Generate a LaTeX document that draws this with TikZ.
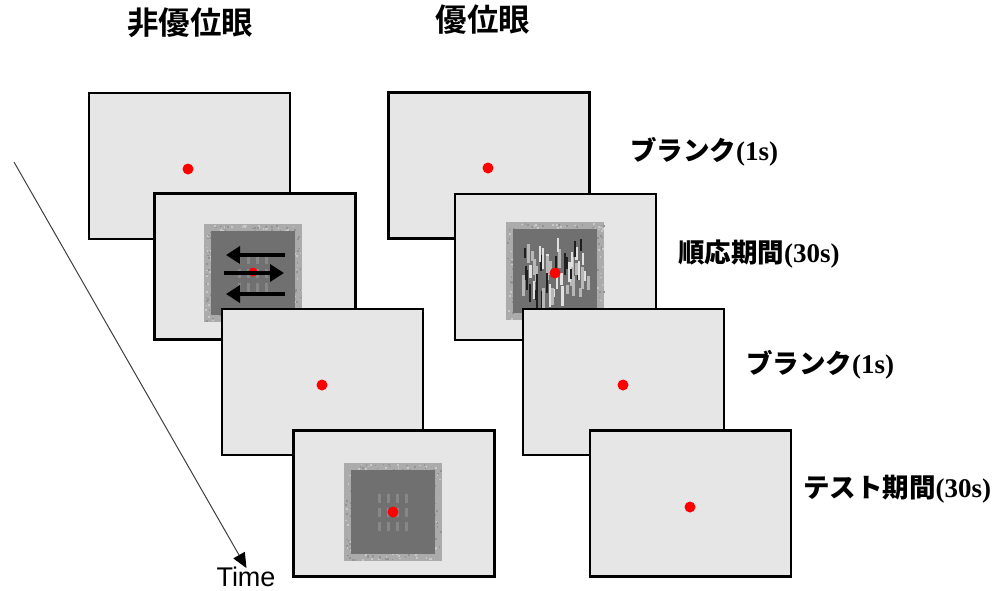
\documentclass[tikz,border=0pt]{standalone}
\usepackage{fontspec}
\setmainfont{Liberation Serif}
\newfontfamily\jpfont{Noto Sans CJK JP Bold}
\newfontfamily\timefont{Liberation Sans}
\usetikzlibrary{arrows.meta}

\definecolor{screenfill}{HTML}{E6E6E6}
\definecolor{framegray}{HTML}{ABABAB}
\definecolor{innergray}{HTML}{707070}
\definecolor{gratgray}{HTML}{878787}
\definecolor{fixred}{HTML}{FF0000}
\definecolor{timegray}{HTML}{404040}

\tikzset{
  screen/.style={draw=black, line width=2.5pt, fill=screenfill,
    minimum width=201pt, minimum height=146pt, inner sep=0pt, outer sep=0pt},
  heading/.style={anchor=base, inner sep=0pt, font=\jpfont\fontsize{31.5}{34}\selectfont},
  phase/.style={anchor=base west, inner sep=0pt, font=\fontsize{27}{30}\selectfont\bfseries},
  motion/.style={line width=4pt, -{Triangle[length=14pt,width=17pt]}},
}

% textured grey frame with a dark grey field, centred on (#1,#2)
\newcommand\stimframe[3]{%
  \begin{scope}[shift={(#1,#2)}]
    \fill[framegray] (-49,-49) rectangle (49,49);
    \pgfmathsetseed{#3}
    \foreach \k in {1,...,420}{
      \pgfmathsetmacro\px{rnd*96-48}
      \pgfmathsetmacro\py{rnd*96-48}
      \pgfmathtruncatemacro\sh{rnd*2}
      \ifnum\sh=0
        \fill[white!35!framegray] (\px,\py) rectangle ++(1.7,1.7);
      \else
        \fill[black!14!framegray] (\px,\py) rectangle ++(1.7,1.7);
      \fi
    }
    \fill[innergray] (-42,-42) rectangle (42,42);
  \end{scope}}

% faint 3x4 array of grating patches around (#1,#2)
\newcommand\gratings[2]{%
  \begin{scope}[shift={(#1,#2)}]
    \foreach \gy in {-14,0,14}
      \foreach \gx in {-13.5,-4.5,4.5,13.5}
        \fill[gratgray] ({\gx-1.6},{\gy-4.5}) rectangle ({\gx+1.6},{\gy+4.5});
  \end{scope}}

% random line elements (vertical bars)
\newcommand\barfield[3]{%
  \begin{scope}[shift={(#1,#2)}]
    \pgfmathsetseed{#3}
    \foreach \k in {1,...,55}{
      \pgfmathsetmacro\px{rnd*66-34}
      \pgfmathsetmacro\py{rnd*56-36}
      \pgfmathsetmacro\len{8+rnd*17}
      \pgfmathtruncatemacro\sh{rnd*3}
      \ifcase\sh
        \fill[white!88!black] (\px,\py) rectangle ++(2.4,\len);
      \or
        \fill[black!88] (\px,\py) rectangle ++(2,\len);
      \else
        \fill[white!72!black] (\px,\py) rectangle ++(3,\len);
      \fi
    }
  \end{scope}}

\begin{document}
\begin{tikzpicture}[x=1pt, y=-1pt]
  \useasboundingbox (0,0) rectangle (995,590);

  % column headings
  \node[heading] (hnd) at (190,34) {非優位眼};
  \node[heading] (hd)  at (483,31) {優位眼};

  % time axis
  \coordinate (tstart) at (14,162);
  \node[anchor=base, inner sep=0pt, font=\timefont\fontsize{27}{30}\selectfont] (time) at (246,586) {Time};
  \draw[timegray, line width=1pt, -{Triangle[length=15pt,width=13pt,color=black]}, shorten >=-1pt]
    (tstart) -- ([yshift=-1pt]time.north);

  % ---------- non-dominant eye ----------
  \node[screen] (l1) at (189.5,166) {};
  \fill[fixred] (188,169) circle (5.5);

  \node[screen] (l2) at (255,266.5) {};
  \stimframe{253}{273}{11}
  \gratings{253}{273}
  \fill[fixred] (253,272) circle (4.5);
  \draw[motion] (285,255) -- (226,255);
  \draw[motion] (224,273) -- (284,273);
  \draw[motion] (285,294) -- (226,294);

  \node[screen] (l3) at (322.5,382) {};
  \fill[fixred] (322,385) circle (5.5);

  \node[screen] (l4) at (394,503.5) {};
  \stimframe{393}{511.5}{23}
  \gratings{393}{512}
  \fill[fixred] (393,512) circle (5.5);

  % ---------- dominant eye ----------
  \node[screen] (r1) at (489,165.5) {};
  \fill[fixred] (488,168) circle (5.5);

  \node[screen] (r2) at (555.5,267) {};
  \stimframe{555}{271}{37}
  \barfield{555}{273}{5}
  \fill[fixred] (555,273) circle (5.5);

  \node[screen] (r3) at (623.5,382) {};
  \fill[fixred] (623,385) circle (5.5);

  \node[screen] (r4) at (690.5,503.5) {};
  \fill[fixred] (690,507) circle (5.5);

  % phase labels
  \node[phase] (p1) at (630,160) {{\jpfont\fontsize{26.5}{30}\selectfont ブランク}(1s)};
  \node[phase] (p2) at (678,262) {{\jpfont\fontsize{26.5}{30}\selectfont 順応期間}(30s)};
  \node[phase] (p3) at (746,373) {{\jpfont\fontsize{26.5}{30}\selectfont ブランク}(1s)};
  \node[phase] (p4) at (803,497) {{\jpfont\fontsize{26.5}{30}\selectfont テスト期間}(30s)};
\end{tikzpicture}
\end{document}
